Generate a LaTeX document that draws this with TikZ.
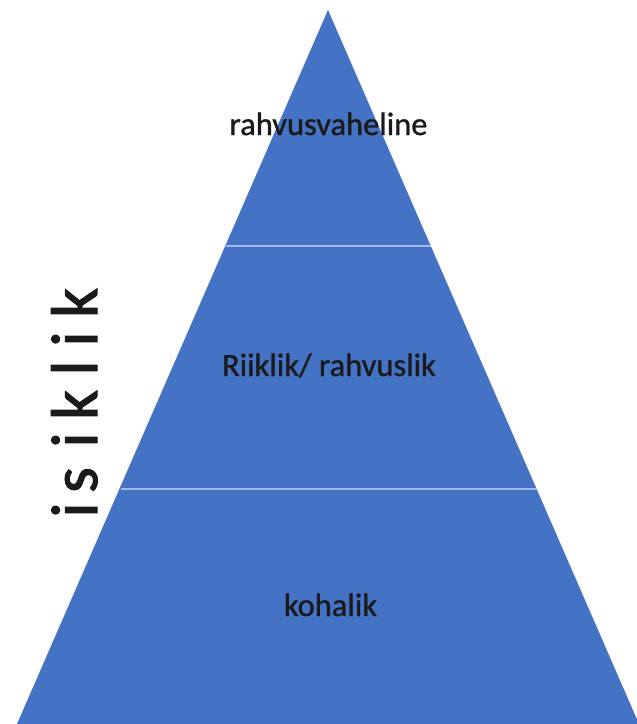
\documentclass[tikz,border=0pt]{standalone}
\usepackage{fontspec}
\setmainfont{Carlito}
\newfontfamily\heavyfont[FakeBold=0.9]{Carlito}
\newfontfamily\vertfont[FakeBold=1.6]{Carlito}
\definecolor{pyrfill}{HTML}{4472C4}
\definecolor{pyrline}{HTML}{A3BBEA}
\definecolor{txt}{HTML}{1A1A1A}
\begin{document}
\begin{tikzpicture}[x=1pt,y=-1pt,
  lbl/.style={font=\heavyfont\fontsize{32.5}{36}\selectfont, text=txt, anchor=base, inner sep=0pt},
  vlet/.style={font=\vertfont\fontsize{66}{70}\selectfont, text=txt, rotate=90, anchor=base, inner sep=0pt},
  divider/.style={draw=pyrline, line width=2.4pt}]
\useasboundingbox[fill=white] (0,0) rectangle (637,724);
\coordinate (apex) at (328,10);
\coordinate (bl) at (17,724);
\coordinate (br) at (639,724);
\fill[pyrfill] (apex) -- (br) -- (bl) -- cycle;
\coordinate (d1l) at (226,246);
\coordinate (d1r) at (431,246);
\coordinate (d2l) at (121,489);
\coordinate (d2r) at (537,489);
\draw[divider] (d1l) -- (d1r);
\draw[divider] (d2l) -- (d2r);
\node[lbl] (top) at (328.5,135) {rahvusvaheline};
\node[lbl] (mid) at (329,376) {Riiklik/ rahvuslik};
\node[lbl] (bot) at (330.5,616) {kohalik};
\node[vlet] (l1) at (97,510) {i};
\node[vlet] (l2) at (97,480) {s};
\node[vlet] (l3) at (97,440) {i};
\node[vlet] (l4) at (97,405) {k};
\node[vlet] (l5) at (97,368) {l};
\node[vlet] (l6) at (97,339) {i};
\node[vlet] (l7) at (97,303) {k};
\end{tikzpicture}
\end{document}
